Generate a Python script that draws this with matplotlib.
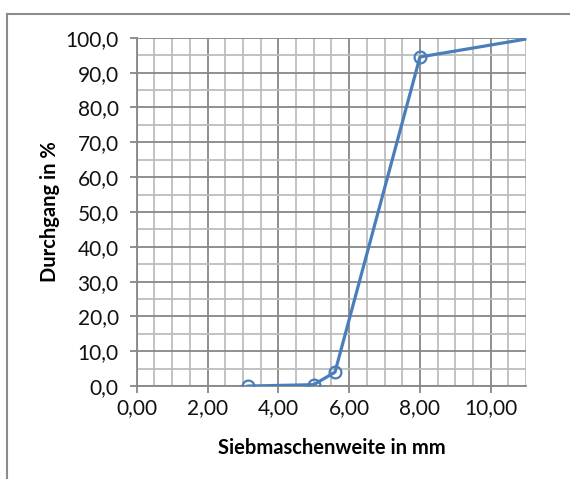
import matplotlib
matplotlib.use("Agg")
import matplotlib.pyplot as plt
from matplotlib.ticker import MultipleLocator, FuncFormatter
from matplotlib.lines import Line2D

sieve_mm = [3.15, 5.0, 5.6, 8.0, 11.2]
passing_pct = [0.0, 0.4, 4.0, 94.5, 100.0]
x_label = "Siebmaschenweite in mm"
y_label = "Durchgang in %"

plt.rcParams['font.family'] = ['Lato', 'DejaVu Sans']

fig = plt.figure(figsize=(5.70, 4.79), dpi=100)
ax = fig.add_axes([0.240, 0.194, 0.683, 0.727])

# outer chart frame (top and left edges visible)
fig.add_artist(Line2D([7/570, 7/570], [0, 1-14/479], transform=fig.transFigure,
                      color='#8c8c8c', lw=1.5))
fig.add_artist(Line2D([7/570, 1], [1-14/479, 1-14/479], transform=fig.transFigure,
                      color='#8c8c8c', lw=1.5))

blue = '#4a7ebb'
ax.plot(sieve_mm, passing_pct, color=blue, lw=2.3, marker='o', markersize=8.5,
        markerfacecolor='none', markeredgecolor=blue, markeredgewidth=1.6,
        zorder=5, clip_on=True)

ax.set_xlim(0, 11)
ax.set_ylim(0, 100)
ax.xaxis.set_major_locator(MultipleLocator(2))
ax.xaxis.set_minor_locator(MultipleLocator(0.5))
ax.yaxis.set_major_locator(MultipleLocator(10))
ax.yaxis.set_minor_locator(MultipleLocator(5))
ax.xaxis.set_major_formatter(FuncFormatter(lambda v, p: f"{v:.2f}".replace('.', ',')))
ax.yaxis.set_major_formatter(FuncFormatter(lambda v, p: f"{v:.1f}".replace('.', ',')))

ax.grid(which='major', color='#878787', lw=1.3)
ax.grid(which='minor', color='#bdbdbd', lw=1.3)
ax.set_axisbelow(True)

for s in ['top', 'right']:
    ax.spines[s].set_visible(False)
for s in ['left', 'bottom']:
    ax.spines[s].set_color('#878787')
    ax.spines[s].set_linewidth(1.3)

ax.tick_params(which='major', direction='out', length=5, width=1.3, color='#878787',
               labelsize=15, labelcolor='#111111', pad=4)
ax.tick_params(axis='y', which='major', pad=8)
ax.tick_params(which='minor', length=0)

ax.set_xlabel(x_label, fontsize=14.5, fontweight='bold', labelpad=14)
ax.set_ylabel(y_label, fontsize=14.5, fontweight='bold', labelpad=4)

fig.savefig("out.png", dpi=100, facecolor='white')
